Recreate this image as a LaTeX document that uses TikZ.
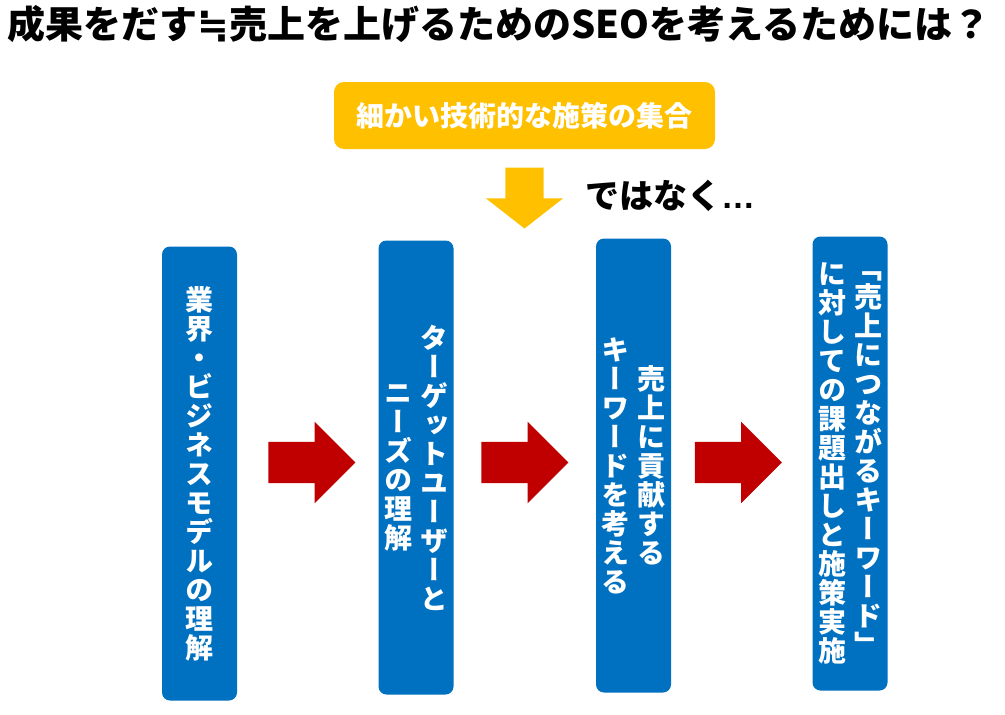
\documentclass[tikz,border=0pt]{standalone}
\usepackage{fontspec}
\setmainfont{Noto Sans CJK JP}
\newfontfamily\tatefont[RawFeature=+vert]{Noto Sans CJK JP}
\newfontfamily\dotsfont{Liberation Sans}
\newfontfamily\symfont{DejaVu Sans}
\usetikzlibrary{shapes.arrows}
\definecolor{boxblue}{HTML}{0070C0}
\definecolor{boxyellow}{HTML}{FFC000}
\definecolor{arrowred}{HTML}{C00000}
% one character per line, column centred on the axis
\def\tateloop#1{\ifx\relax#1\else\hbox to 1em{\hss#1\hss}\expandafter\tateloop\fi}
\newcommand\tate[1]{$\vcenter{\tatefont\bfseries\fontsize{28}{29}\selectfont\lineskiplimit=-\maxdimen\tateloop#1\relax}$}

\begin{document}
\begin{tikzpicture}[x=1pt, y=-1pt,
  tatebox/.style={fill=boxblue, rounded corners=8pt, minimum width=75pt, minimum height=454pt, inner sep=0pt, text=white},
  redarrow/.style={single arrow, fill=arrowred, minimum height=87pt, minimum width=81pt, single arrow head extend=20pt, single arrow head indent=0pt, inner xsep=0pt, inner ysep=20.5pt}]
  \useasboundingbox (0,0) rectangle (1005,715);
  \node[anchor=west, inner sep=0pt, font=\bfseries\fontsize{38}{40}\selectfont] (title) at (7,24) {成果をだす{\symfont ≒}売上を上げるためのSEOを考えるためには？};
  \node[fill=boxyellow, rounded corners=10pt, minimum width=381pt, minimum height=67pt, text=white, font=\bfseries\fontsize{28}{30}\selectfont] (tech) at (524.5,115.5) {細かい技術的な施策の集合};
  \node[single arrow, rotate=-90, fill=boxyellow, minimum height=61pt, minimum width=77pt, single arrow head extend=19.5pt, single arrow tip angle=104, inner xsep=0pt, inner ysep=19pt] (down) at (524.5,190.5) {};
  \node[anchor=west, inner sep=0pt, font=\bfseries\fontsize{34}{36}\selectfont] (not) at (585,196) {ではなく{\dotsfont …}};
  % the four steps, text set top to bottom
  \node[tatebox] (biz) at (199.5,473.5) {\tate{業界・ビジネスモデルの理解}};
  \node[tatebox] (user) at (416,467.5) {\tate{ニーズの理解}\hspace{8pt}\tate{ターゲットユーザーと}};
  \node[tatebox] (kw) at (633.5,465.5) {\tate{キーワードを考える}\hspace{8pt}\tate{売上に貢献する}};
  \node[tatebox] (plan) at (850,463.5) {\tate{に対しての課題出しと施策実施}\hspace{8pt}\tate{「売上につながるキーワード」}};
  \node[redarrow] (a1) at (301.5,462.5) {};
  \node[redarrow] (a2) at (514.5,462.5) {};
  \node[redarrow] (a3) at (728,462.5) {};
\end{tikzpicture}
\end{document}
